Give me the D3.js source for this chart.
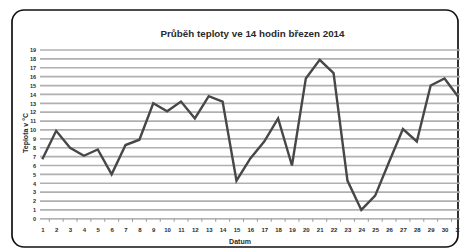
<!DOCTYPE html>
<html>
<head>
<meta charset="utf-8">
<script src="https://cdn.jsdelivr.net/npm/d3@7"></script>
<style>
  body { margin: 0; background: #fff; }
  svg { display: block; }
  text { font-family: "Liberation Sans", Arial, sans-serif; font-weight: bold; fill: #2a2a2a; }
</style>
</head>
<body>
<svg id="chart" width="460" height="251"></svg>
<script>
const days = d3.range(1, 32);
const temps = [6.7, 9.9, 8.0, 7.1, 7.8, 5.0, 8.3, 8.9, 13.0, 12.1,
  13.2, 11.3, 13.8, 13.2, 4.3, 6.8, 8.7, 11.3, 6.0, 15.8,
  17.9, 16.4, 4.3, 1.0, 2.6, 6.4, 10.1, 8.7, 15.0, 15.8, 13.7];
const yTicks = d3.range(0, 20);
const title = "Průběh teploty ve 14 hodin březen 2014";

const svg = d3.select("#chart");

// frame
svg.append("rect")
  .attr("x", 12).attr("y", 10)
  .attr("width", 446).attr("height", 237)
  .attr("rx", 12)
  .attr("fill", "#fff")
  .attr("stroke", "#111")
  .attr("stroke-width", 1.7);

const x = d3.scalePoint().domain(days).range([42.3, 458.4]);
const y = d3.scaleLinear().domain([0, 19]).range([218.8, 50]);

// gridlines
svg.append("g")
  .selectAll("line")
  .data(yTicks.filter(d => d > 0))
  .join("line")
  .attr("x1", 40).attr("x2", 460)
  .attr("y1", d => y(d)).attr("y2", d => y(d))
  .attr("stroke", "#b0b0b0")
  .attr("stroke-width", 1.7);

// x axis
const xAxis = svg.append("g")
  .attr("transform", `translate(0,${y(0)})`)
  .call(d3.axisBottom(x).tickSize(0).tickPadding(9));
xAxis.select(".domain").remove();
xAxis.append("line")
  .attr("x1", 40).attr("x2", 460)
  .attr("stroke", "#999").attr("stroke-width", 1.2);
xAxis.selectAll(".mid")
  .data(days.slice(0, -1))
  .join("line")
  .attr("class", "mid")
  .attr("x1", d => x(d) + 7).attr("x2", d => x(d) + 7)
  .attr("y1", 0).attr("y2", 3)
  .attr("stroke", "#999");
xAxis.selectAll(".tick text")
  .attr("font-size", 6).attr("fill", "#2a2a2a")
  .attr("font-family", "Liberation Sans, Arial, sans-serif")
  .attr("font-weight", "bold");

// y axis labels
const yAxis = svg.append("g")
  .attr("transform", "translate(36,0)")
  .call(d3.axisLeft(y).tickValues(yTicks).tickSize(0).tickPadding(0));
yAxis.select(".domain").remove();
yAxis.selectAll(".tick text")
  .attr("font-size", 5.5).attr("fill", "#2a2a2a")
  .attr("font-family", "Liberation Sans, Arial, sans-serif")
  .attr("font-weight", "bold");

// series
svg.append("path")
  .datum(temps)
  .attr("fill", "none")
  .attr("stroke", "#474747")
  .attr("stroke-width", 2.4)
  .attr("d", d3.line().x((d, i) => x(days[i])).y(d => y(d)));

// titles
svg.append("text")
  .attr("x", 252.5).attr("y", 36.5)
  .attr("text-anchor", "middle")
  .attr("font-size", 9.8)
  .text(title);

svg.append("text")
  .attr("x", 240).attr("y", 244)
  .attr("text-anchor", "middle")
  .attr("font-size", 7)
  .text("Datum");

svg.append("text")
  .attr("transform", "translate(27.5,133) rotate(-90)")
  .attr("text-anchor", "middle")
  .attr("font-size", 7)
  .text("Teplota v °C");
</script>
</body>
</html>
